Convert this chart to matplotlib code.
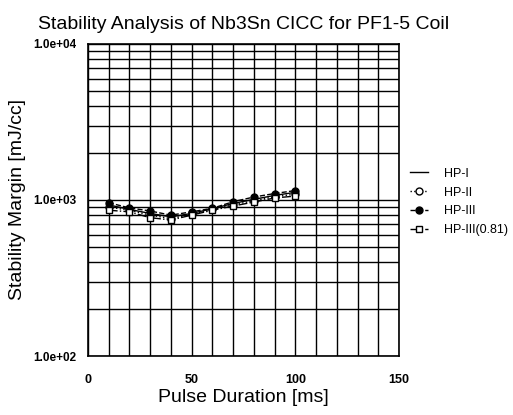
import matplotlib
matplotlib.use('Agg')
import matplotlib.pyplot as plt
from matplotlib.ticker import MultipleLocator, LogLocator, FuncFormatter, NullFormatter

plt.rcParams['font.family'] = ['Liberation Sans', 'DejaVu Sans']

# pulse duration [ms]
pulse = [10, 20, 30, 40, 50, 60, 70, 80, 90, 100]

# stability margin [mJ/cc]
hp1 = [930, 870, 820, 780, 820, 880, 950, 1010, 1070, 1120]
hp2 = [900, 860, 800, 760, 810, 870, 930, 990, 1050, 1090]
hp3 = [960, 890, 850, 800, 840, 885, 975, 1045, 1100, 1150]
hp3_081 = [860, 840, 770, 745, 800, 860, 915, 970, 1030, 1060]

fig = plt.figure(figsize=(5.13, 4.15), dpi=100)
ax = fig.add_axes([88 / 513, 59 / 415, 311 / 513, 312 / 415])

ax.plot(pulse, hp1, color='black', linestyle='-', linewidth=1.0, label='HP-I')
ax.plot(pulse, hp2, color='black', linestyle=':', linewidth=1.0, marker='o',
        markersize=5, markerfacecolor='white', label='HP-II')
ax.plot(pulse, hp3, color='black', linestyle='--', linewidth=1.0, marker='o',
        markersize=5, markerfacecolor='black', label='HP-III')
ax.plot(pulse, hp3_081, color='black', linestyle='-.', linewidth=1.0, marker='s',
        markersize=5, markerfacecolor='white', label='HP-III(0.81)')

ax.set_yscale('log')
ax.set_xlim(0, 150)
ax.set_ylim(100, 10000)

ax.xaxis.set_major_locator(MultipleLocator(50))
ax.xaxis.set_minor_locator(MultipleLocator(10))
ax.yaxis.set_major_locator(LogLocator(base=10))
ax.yaxis.set_minor_locator(LogLocator(base=10, subs=range(2, 10)))
ax.yaxis.set_major_formatter(FuncFormatter(lambda v, p: '%.1e' % v))
ax.yaxis.set_minor_formatter(NullFormatter())

ax.grid(True, which='both', color='black', linewidth=1.0)
ax.tick_params(which='both', length=0)
ax.tick_params(axis='x', pad=13, labelsize=9)
ax.tick_params(axis='y', pad=8.5, labelsize=8.5)
for lab in ax.get_xticklabels() + ax.get_yticklabels():
    lab.set_fontweight('bold')
for sp in ax.spines.values():
    sp.set_linewidth(1.2)

ax.set_title('Stability Analysis of Nb3Sn CICC for PF1-5 Coil', fontsize=14, pad=11)
ax.set_xlabel('Pulse Duration [ms]', fontsize=14, labelpad=2)
ax.set_ylabel('Stability Margin [mJ/cc]', fontsize=14, labelpad=5)

fig.legend(handles=ax.get_lines(), loc='center left', bbox_to_anchor=(410 / 513, 1 - 202 / 415),
           frameon=False, fontsize=9, handlelength=1.45, handletextpad=1.3,
           labelspacing=0.55, borderpad=0, borderaxespad=0)

fig.savefig('out.png', dpi=100)
